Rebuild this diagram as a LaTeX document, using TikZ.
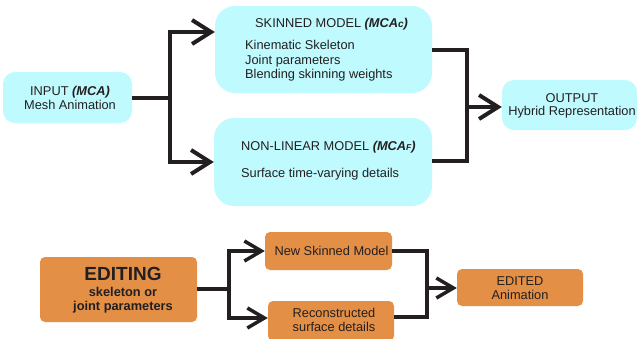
\documentclass[tikz,border=0pt]{standalone}
\usepackage{fontspec}
\setmainfont{Liberation Sans}
\usetikzlibrary{arrows.meta}
\definecolor{cyanbox}{RGB}{191,250,255}
\definecolor{orangebox}{RGB}{228,143,70}
\definecolor{ink}{RGB}{35,31,32}
\begin{document}
\begin{tikzpicture}[x=1pt,y=-1pt,
  cbox/.style={rectangle, fill=cyanbox, inner sep=0pt, rounded corners=#1},
  obox/.style={rectangle, fill=orangebox, inner sep=0pt, rounded corners=5pt},
  txt/.style={inner sep=0pt, anchor=base, font=\fontsize{12.8}{14.5}\selectfont, text=ink},
  txtl/.style={txt, anchor=base west},
  conn/.style={draw=ink, line width=4pt, line join=miter},
  arr/.style={conn, -{Straight Barb[length=19pt,width=24pt,line join=miter]}},
  connb/.style={draw=ink, line width=3.5pt, line join=miter},
  arrb/.style={connb, -{Straight Barb[length=17pt,width=20pt,line join=miter]}}]
\useasboundingbox (0,0) rectangle (637,338);
% top boxes
\node[cbox=12pt, minimum width=129pt, minimum height=51pt] (in) at (67.5,97.5) {};
\node[cbox=20pt, minimum width=217pt, minimum height=87pt] (skin) at (323.5,49.5) {};
\node[cbox=20pt, minimum width=218pt, minimum height=88pt] (nl) at (323,162) {};
\node[cbox=12pt, minimum width=135pt, minimum height=50pt] (out) at (569.5,105) {};
% top texts
\node[txt] (in1) at (70,95) {INPUT \textbf{\textit{(MCA)}}};
\node[txt] (in2) at (70,109) {Mesh Animation};
\node[txtl] (sk0) at (255,27) {SKINNED MODEL \textbf{\textit{(MCA{\fontsize{10}{10}\selectfont c})}}};
\node[txtl] (sk1) at (245,49) {Kinematic Skeleton};
\node[txtl] (sk2) at (245,64) {Joint parameters};
\node[txtl] (sk3) at (245,78.5) {Blending skinning weights};
\node[txtl] (nl0) at (241,150) {NON-LINEAR MODEL \textbf{\textit{(MCA{\fontsize{8.5}{8.5}\selectfont F})}}};
\node[txtl] (nl1) at (241,177) {Surface time-varying details};
\node[txt] (out1) at (572,102) {OUTPUT};
\node[txt] (out2) at (572,115.5) {Hybrid Representation};
% top connectors
\draw[conn] (in.east) -- (170,97.5) coordinate (j1);
\draw[arr] (j1) |- (skin.west |- 0,32);
\draw[arr] (j1) |- (nl.west |- 0,162);
\draw[conn] (skin.east |- 0,50) -- (467,50) -- (467,161) -- (nl.east |- 0,161);
\coordinate (j2) at (467,107);
\draw[arr] (j2) -- (out.west |- j2);
% bottom boxes
\node[obox, minimum width=157pt, minimum height=65pt] (ed) at (118.5,289.5) {};
\node[obox, minimum width=127pt, minimum height=38pt] (ns) at (328.5,251) {};
\node[obox, minimum width=126pt, minimum height=40pt] (rc) at (331,321) {};
\node[obox, minimum width=126pt, minimum height=37pt] (eo) at (520,287.5) {};
% bottom texts
\node[txt, font=\fontsize{19}{19}\selectfont\bfseries] (ed0) at (123,280) {EDITING};
\node[txt, font=\fontsize{12.8}{14.5}\selectfont\bfseries] (ed1) at (123,296) {skeleton or};
\node[txt, font=\fontsize{12.8}{14.5}\selectfont\bfseries] (ed2) at (123,310) {joint parameters};
\node[txt] (ns1) at (331.5,255) {New Skinned Model};
\node[txt] (rc1) at (334,317) {Reconstructed};
\node[txt] (rc2) at (334,331) {surface details};
\node[txt] (eo1) at (520,285) {EDITED};
\node[txt] (eo2) at (520,299) {Animation};
% bottom connectors
\draw[connb] (ed.east |- 0,289) -- (229,289) coordinate (j3);
\draw[arrb] (j3) |- (ns.west);
\draw[arrb] (j3) |- (rc.west |- 0,318);
\draw[connb] (ns.east) -- (427,251) -- (427,317) -- (rc.east |- 0,317);
\coordinate (j4) at (427,288);
\draw[arrb] (j4) -- (eo.west |- j4);
\end{tikzpicture}
\end{document}
